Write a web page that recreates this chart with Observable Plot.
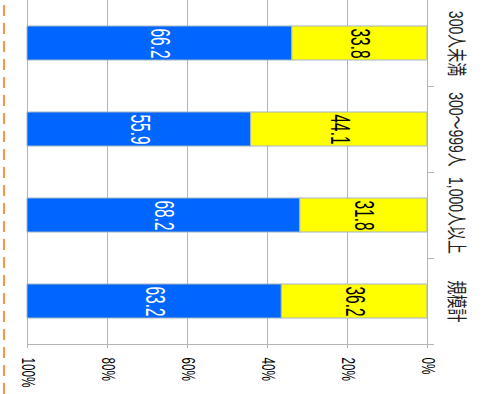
<!DOCTYPE html>
<html>
<head>
<meta charset="utf-8">
<script src="https://cdn.jsdelivr.net/npm/d3@7"></script>
<script src="https://cdn.jsdelivr.net/npm/@observablehq/plot@0.6"></script>
<style>
  body { margin: 0; background: #ffffff; }
  #wrap { position: relative; width: 485px; height: 394px; overflow: hidden; background: #ffffff; }
  #dash { position: absolute; left: 3px; top: 0; width: 2px; height: 394px;
          background: repeating-linear-gradient(to bottom, #f79646 0 11px, transparent 11px 18px);
          background-position: 0 5px; }
  #chart { position: absolute; left: 0; top: 0; }
</style>
</head>
<body>
<div id="wrap"><div id="dash"></div><div id="chart"></div></div>
<script>
// ---- data ----
const categories = ["300人未満", "300～999人", "1,000人以上", "規模計"];
const seriesNames = ["系列1", "系列2"];           // blue, yellow
const blueValues = [66.2, 55.9, 68.2, 63.2];
const yellowValues = [33.8, 44.1, 31.8, 36.2];
const seriesColors = ["#0066ff", "#ffff00"];
const labelColors = ["#ffffff", "#000000"];
const xTicks = [0, 0.2, 0.4, 0.6, 0.8, 1];

const table = [];
categories.forEach((c, i) => {
  table.push({cat: c, series: seriesNames[0], value: blueValues[i]});
  table.push({cat: c, series: seriesNames[1], value: yellowValues[i]});
});

const W = 485, H = 394, MT = 0, MB = 50, ML = 27, MR = 58;
const step = (H - MT - MB) / categories.length;
const order = [seriesNames[1], seriesNames[0]];
const grid = "#b3b3b3";

const svg = Plot.plot({
  width: W, height: H,
  marginTop: MT, marginBottom: MB, marginLeft: ML, marginRight: MR,
  style: {fontFamily: "'Liberation Sans','Noto Sans CJK JP',sans-serif", background: "transparent", color: "#000"},
  x: {domain: [0, 1], reverse: true},
  y: {domain: categories, paddingInner: 0.6, paddingOuter: 0.3},
  color: {domain: seriesNames, range: seriesColors},
  marks: [
    Plot.gridX(xTicks, {stroke: grid, strokeOpacity: 1, strokeWidth: 1}),
    Plot.barX(table, Plot.stackX({
      x: "value", y: "cat", fill: "series", order, offset: "normalize",
      stroke: "#a3b3c8", strokeWidth: 1
    })),
    Plot.text(table, Plot.stackX({
      x: "value", y: "cat", z: "series", order, offset: "normalize",
      text: d => d.value.toFixed(1), rotate: 90, fontSize: 27,
      fill: {value: d => labelColors[seriesNames.indexOf(d.series)], scale: null}
    })),
    Plot.frame({anchor: "bottom", stroke: grid}),
    Plot.axisX(xTicks, {
      tickFormat: d3.format(".0%"), tickRotate: 90, tickSize: 4, tickPadding: 9,
      fontSize: 18, stroke: grid, fill: "#000", label: null
    }),
    Plot.axisY({
      anchor: "right", tickSize: 0, tickPadding: 28, tickRotate: 90,
      lineAnchor: "middle", textAnchor: "middle", fontSize: 20, fill: "#222", label: null
    }),
    Plot.axisY({
      anchor: "right", tickSize: 6, dy: step / 2, tickFormat: () => "",
      stroke: grid, label: null
    })
  ]
});

function squeeze(sel, s) {
  d3.select(svg).selectAll(sel).each(function () {
    const t = this.getAttribute("transform") || "";
    this.setAttribute("transform", t + ` scale(${s},1)`);
  });
}
squeeze('g[aria-label="text"] text', 0.57);
squeeze('g[aria-label="x-axis tick label"] text', 0.65);
squeeze('g[aria-label="y-axis tick label"] text', 0.7);

document.getElementById("chart").appendChild(svg);
</script>
</body>
</html>
